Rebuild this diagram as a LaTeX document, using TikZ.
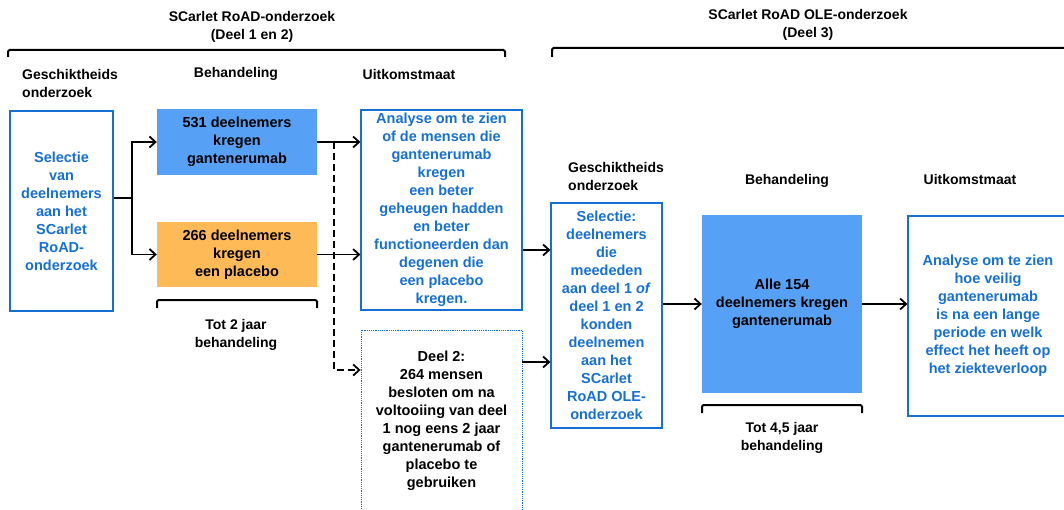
\documentclass[tikz,border=0pt]{standalone}
\usepackage{fontspec}
\setmainfont{Liberation Sans}
\usetikzlibrary{arrows.meta}
\definecolor{txtblue}{RGB}{22,112,212}
\definecolor{fillblue}{RGB}{86,161,245}
\definecolor{fillorange}{RGB}{255,186,88}

\begin{document}
\begin{tikzpicture}[x=1pt,y=1pt,yscale=-1,
  box/.style={draw=txtblue,line width=1.2pt,inner sep=0pt,align=center,text=txtblue,
    font=\fontsize{14.5}{18}\selectfont\bfseries},
  solidbox/.style={inner sep=0pt,align=center,text=black,
    font=\fontsize{14.5}{18}\selectfont\bfseries},
  hdr/.style={inner sep=0pt,align=center,font=\fontsize{14}{18}\selectfont\bfseries},
  arr/.style={line width=1.8pt,-{Straight Barb[length=6pt,width=11pt]}},
  dasharr/.style={arr,dash pattern=on 7pt off 4pt},
  bracket/.style={line width=2pt,rounded corners=1.5pt}]
\useasboundingbox (0,0) rectangle (1064,510);
\clip (0,0) rectangle (1064,510);

% Titles and brackets
\node [hdr] (titleA) at (252,27) {SCarlet RoAD-onderzoek\\(Deel 1 en 2)};
\draw [bracket] (8,57) -- (8,50) -- (505,50) -- (505,57);
\node [hdr] (titleB) at (808,25) {SCarlet RoAD OLE-onderzoek\\(Deel 3)};
\draw [bracket] (552,57) -- (552,48) -- (1070,48);

% Column headers, part 1 and 2
\node [hdr,align=left,anchor=west] (geschiktA) at (22,83) {Geschiktheids\\onderzoek};
\node [hdr] (behandA) at (236,74) {Behandeling};
\node [hdr] (uitkomstA) at (409,74) {Uitkomstmaat};

% Column headers, part 3
\node [hdr,align=left,anchor=west] (geschiktB) at (568,176) {Geschiktheids\\onderzoek};
\node [hdr] (behandB) at (787,181) {Behandeling};
\node [hdr] (uitkomstB) at (970,179) {Uitkomstmaat};

% Boxes
\node [box,minimum width=103pt,minimum height=200pt] (selectA) at (61.5,211)
  {Selectie\\van\\deelnemers\\aan het\\SCarlet\\RoAD-\\onderzoek};
\node [solidbox,fill=fillblue,minimum width=160pt,minimum height=66pt] (ganten) at (237,142)
  {531 deelnemers\\kregen\\gantenerumab};
\node [solidbox,fill=fillorange,minimum width=160pt,minimum height=65pt] (placebo) at (237,254.5)
  {266 deelnemers\\kregen\\een placebo};
\node [box,minimum width=161pt,minimum height=200pt] (analyseA) at (441.5,210)
  {Analyse om te zien\\of de mensen die\\gantenerumab\\kregen\\een beter\\geheugen hadden\\en beter\\functioneerden dan\\degenen die\\een placebo\\kregen.};
\node [box,densely dotted,line width=0.9pt,text=black,minimum width=161pt,minimum height=182pt] (deel2) at (441.5,421)
  {Deel 2:\\264 mensen\\besloten om na\\voltooiing van deel\\1 nog eens 2 jaar\\gantenerumab of\\placebo te\\gebruiken};
\node [box,minimum width=111pt,minimum height=225pt] (selectB) at (606.5,315.5)
  {Selectie:\\deelnemers\\die\\meededen\\aan deel 1 \textit{of}\\deel 1 en 2\\konden\\deelnemen\\aan het\\SCarlet\\RoAD OLE-\\onderzoek};
\node [solidbox,fill=fillblue,minimum width=160pt,minimum height=178pt] (alle) at (782,304)
  {Alle 154\\deelnemers kregen\\gantenerumab};
\node [box,minimum width=160pt,minimum height=200pt] (analyseB) at (988,316)
  {Analyse om te zien\\hoe veilig\\gantenerumab\\is na een lange\\periode en welk\\effect het heeft op\\het ziekteverloop};

% Treatment brackets
\draw [bracket] (157,308) -- (157,300) -- (317,300) -- (317,308);
\node [hdr] (totA) at (236,335) {Tot 2 jaar\\behandeling};
\draw [bracket] (702,413) -- (702,405) -- (862,405) -- (862,413);
\node [hdr] (totB) at (782,438) {Tot 4,5 jaar\\behandeling};

% Connectors
\coordinate (split) at (132,198);
\coordinate (cont) at (334,142);
\draw [line width=1.8pt] (selectA.east |- split) -- (split);
\draw [arr] (split) |- (ganten.west);
\draw [arr] (split) |- (placebo.west);
\draw [arr] (ganten.east) -- (ganten.east -| analyseA.west);
\draw [arr] (placebo.east) -- (placebo.east -| analyseA.west);
\draw [dasharr] (cont) |- (deel2.west |- 0,370);
\draw [arr] (analyseA.east |- 0,250) -- (selectB.west |- 0,250);
\draw [arr] (deel2.east |- 0,362) -- (selectB.west |- 0,362);
\draw [arr] (alle.west -| selectB.east) -- (alle.west);
\draw [arr] (alle.east) -- (alle.east -| analyseB.west);

\end{tikzpicture}
\end{document}
